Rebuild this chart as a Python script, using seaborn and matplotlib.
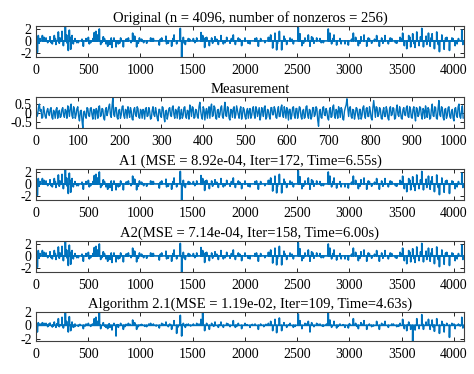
import numpy as np
import pandas as pd
import matplotlib
matplotlib.use("Agg")
import matplotlib.pyplot as plt
import seaborn as sns

n = 4096
m = 1024

# positions of the larger nonzeros
spike_idx = [
    13, 22, 38, 61, 77, 96, 112, 134, 156, 175, 191, 214, 223, 249, 262, 281,
    293, 309, 319, 332, 345, 357, 373, 405, 453, 479, 501, 523, 558, 574, 590, 606,
    619, 644, 670, 686, 708, 727, 746, 766, 788, 810, 836, 861, 884, 925, 944, 963,
    979, 1011, 1059, 1097, 1123, 1180, 1203, 1244, 1266, 1298, 1321, 1346, 1381, 1394,
    1410, 1429, 1458, 1506, 1538, 1579, 1595, 1614, 1633, 1659, 1681, 1713, 1745, 1770,
    1793, 1825, 1857, 1888, 1908, 1936, 1968, 2000, 2048, 2096, 2128, 2150, 2224, 2246,
    2265, 2287, 2303, 2329, 2351, 2373, 2399, 2431, 2463, 2510, 2526, 2545, 2574, 2606,
    2622, 2638, 2660, 2686, 2718, 2750, 2797, 2813, 2829, 2852, 2877, 2909, 2957, 2989,
    3037, 3059, 3085, 3110, 3139, 3165, 3190, 3212, 3260, 3286, 3308, 3340, 3372, 3404,
    3452, 3484, 3509, 3525, 3548, 3567, 3586, 3605, 3628, 3644, 3666, 3692, 3708, 3733,
    3756, 3772, 3791, 3813, 3835, 3861, 3884, 3906, 3931, 3957, 3980, 4011, 4043, 4075,
    4085,
]

orig_amp = [
    -1.9, 0.9, 0.4, 0.9, 0.6, 0.5, -0.3, 0.7, -0.5, 0.9, -0.6, 1.5, -0.4, 1.6, -0.8, 2.5,
    1.0, -1.6, 1.8, -1.4, 0.9, -0.5, 0.4, -0.3, -0.9, 0.4, 0.6, -0.3, 1.4, 1.6, 1.0, 2.0,
    -0.6, 0.7, -0.5, -0.9, -0.6, -1.1, 0.5, -1.0, -0.5, 0.5, -1.0, 0.3, 0.5, 1.3, 0.8, -1.0,
    -0.4, 0.3, -0.4, 0.5, 0.4, -0.7, 0.5, 0.8, -0.4, -0.9, 1.0, -0.5, 2.1, -2.7,
    0.6, -0.6, 0.4, 0.4, 0.5, 1.4, 0.9, -1.1, 0.6, -0.8, 0.5, 0.7, -0.6, 0.9,
    -0.5, 0.6, -0.4, 1.0, -0.6, 0.5, -0.8, 0.5, -0.5, 0.4, -0.9, 0.4, 0.6, 1.0,
    -1.2, 1.3, -1.5, 1.6, -1.5, 0.8, -0.6, 0.5, -0.5, 2.2, 1.2, -0.8, 0.5, 1.0,
    -0.9, 0.7, -0.4, 0.5, 0.4, -0.3, 2.0, 1.3, -0.5, 1.0, -0.7, 0.4, -0.5, -0.7,
    1.3, 0.6, -0.8, 0.7, 1.0, -0.9, 0.4, -0.4, 0.9, -0.9, 0.5, 0.9, -0.5, 0.4,
    -0.4, 0.6, 1.3, -0.8, -1.3, 0.9, -1.0, 1.2, -1.1, 1.5, -0.8, 2.1, -1.0, 0.8,
    1.3, -0.9, 1.2, -1.3, 1.5, -1.8, 1.0, -1.4, 0.6, -1.6, 0.5, -0.8, 0.4, 1.8,
    -0.6,
]

# smaller nonzeros of the original
small_idx = [
    5, 30, 70, 88, 145, 185, 230, 300, 326, 390, 440, 510, 545, 630, 655, 720,
    800, 870, 910, 990, 1030, 1110, 1190, 1250, 1310, 1420, 1470, 1520, 1620, 1690,
    1730, 1810, 1870, 1950, 2030, 2110, 2190, 2240, 2310, 2380, 2450, 2560, 2650,
    2730, 2840, 2920, 3020, 3100, 3180, 3240, 3320, 3390, 3440, 3500, 3580, 3620,
    3680, 3740, 3780, 3850, 3920, 3990, 4030,
]
small_amp = [
    0.3, -0.4, 0.5, 0.3, -0.3, 0.4, 0.5, -0.4, 0.6, -0.3, 0.3, -0.5, 0.4, -0.3, 0.4, 0.5,
    -0.4, 0.3, -0.3, 0.5, -0.3, 0.4, 0.3, -0.5, 0.4, -0.4, 0.3, -0.3, 0.5, -0.4,
    0.3, -0.3, 0.4, 0.3, -0.4, 0.5, -0.3, 0.6, -0.5, 0.4, 0.3, -0.4, 0.5,
    -0.3, 0.4, -0.5, 0.3, -0.4, 0.5, 0.3, -0.4, 0.5, -0.3, 0.4, 0.6, -0.5,
    0.7, -0.6, 0.5, -0.6, 0.5, 0.4, -0.5,
]

# A1 and A2 recover the original almost exactly (MSE ~ 1e-3)
a1_amp = orig_amp
a2_amp = orig_amp

alg21_amp = [
    -1.0, 0.4, 0.2, 0.4, 0.3, 0.3, -0.2, 0.35, -0.25, 0.5, -0.3, 1.0, -0.2, 1.2, -0.4, 1.9,
    0.6, -1.0, 1.3, -0.8, 0.5, -0.3, 0.2, -0.15, -0.5, 0.2, 0.3, -0.15, 1.0, 1.2, 0.6, 1.9,
    -0.5, 0.4, -0.3, -0.5, -0.3, -0.7, 0.3, -1.6, -0.3, 0.3, -0.6, 0.15, 0.3, 0.8, 0.4, -0.6,
    -0.2, 0.15, -0.2, 0.3, 0.2, -0.4, 0.3, 0.5, -0.2, -0.6, 0.7, -1.2, 1.5, -1.6,
    0.3, -0.3, 0.2, 0.2, 0.3, 0.9, 2.0, -0.8, 0.3, -0.6, 0.3, 0.5, -0.3, 0.5,
    -0.3, 0.3, -0.2, 0.7, -0.3, 0.3, -0.5, 0.3, -0.3, 0.2, -0.6, 0.2, 0.3, 0.6,
    -0.8, 0.9, -1.1, 1.1, -0.8, 0.4, -0.3, 0.3, -0.3, 1.7, 0.7, -0.5, 0.3, 0.6,
    -1.0, 0.4, -0.2, 0.3, 0.2, -0.15, 1.9, 0.8, -0.3, 0.6, -0.4, 0.2, -0.3, -0.4,
    1.0, 0.3, -0.5, 0.4, 0.7, -0.6, 0.2, -0.2, 0.6, -0.6, 0.3, 0.6, -0.3, 0.2,
    -0.2, 0.3, 0.9, -0.5, -0.8, 0.5, -0.6, -2.35, -0.7, 1.0, -0.5, 1.6, -0.6, 0.5,
    0.9, -0.6, 0.8, -0.9, 1.0, -1.2, 0.6, -1.0, 0.3, -1.8, 0.3, -0.5, 0.2, 1.2,
    -0.4,
]

# small leftover entries in the Algorithm 2.1 estimate
alg21_extra_idx = [
    50, 120, 160, 200, 240, 370, 420, 470, 540, 660, 700, 780, 850, 900, 1000, 1040,
    1080, 1150, 1220, 1280, 1360, 1440, 1480, 1560, 1700, 1760, 1840, 1920, 2020, 2070,
    2180, 2200, 2420, 2480, 2590, 2700, 2740, 2780, 2890, 2940, 3000, 3070, 3130, 3230,
    3330, 3420, 3470, 3560, 3700, 3800, 3900, 4000, 4060,
]
alg21_extra_amp = [
    0.15, 0.2, -0.15, 0.25, 0.1, -0.2, 0.15, -0.1, 0.2, -0.15, 0.25, 0.1, -0.2, 0.15, 0.1, -0.15,
    0.2, -0.1, 0.15, 0.2, -0.25, 0.15, -0.1, 0.2, -0.15, 0.1, 0.2, -0.15, 0.1, 0.15,
    -0.2, 0.15, 0.1, -0.15, 0.2, 0.15, -0.1, 0.2, -0.15, 0.1, 0.25, -0.15, 0.2, -0.1,
    0.15, 0.2, -0.15, 0.1, 0.2, -0.25, 0.15, 0.2, -0.1,
]

# measurement y (1024 samples), read at samples 0, 4, 8, ... and 2, 6, 10, ...
meas_even = [
    0.35, -0.1, 0.5, 0.2, -0.25, 0.1, -0.3, 0.25, -0.15, 0.3, -0.35, 0.05, 0.2, -0.3, 0.15, -0.2,
    0.3, -0.25, 0.1, 0.4, -0.2, 0.5, -0.3, 0.2, -0.1, 0.35, -0.45, 0.15, -0.85, 0.1, -0.3, 0.25,
    -0.2, 0.3, -0.35, 0.15, 0.25, -0.3, 0.4, -0.15, 0.2, -0.4, 0.3, 0.05, 0.5, -0.25, 0.9, -0.2,
    0.3, -0.35, 0.2, -0.1, 0.4, -0.3, 0.15, 0.35, -0.25, 0.1, -0.4, 0.3, -0.2, 0.25, -0.3, 0.1,
    0.2, -0.35, 0.3, -0.15, 0.1, -0.3, 0.35, -0.2, 0.05, -0.45, 0.2, -0.25, 0.3, -0.5, 0.15, -0.1,
    0.3, -0.2, 0.4, -0.3, 0.1, 0.25, -0.35, 0.2, -0.15, 0.35, -0.3, 0.1, 0.45, -0.2, 0.3, -0.25,
    0.15, -0.3, 0.6, -0.2, 0.35, -0.4, 0.25, 0.1, -0.3, 0.5, -0.15, 0.3, -0.35, 0.2, -0.1, 0.4,
    -0.3, 0.6, -0.2, 0.3, -0.4, 0.15, 0.25, -0.3, 0.4, -0.1, 0.2, -0.35, 0.3, -0.2, 0.1, -0.3,
    0.25, -0.15, 0.35, -0.3, 0.2, 0.05, -0.4, 0.3, -0.2, 0.4, -0.25, 0.15, -0.35, 0.3, -0.1, 0.2,
    -0.3, 0.35, -0.2, 0.45, -0.25, 0.1, 0.3, -0.4, 0.2, -0.15, 0.35, -0.3, 0.25, -0.05, 0.3, -0.35,
    0.2, -0.25, 0.4, -0.3, 0.15, -0.2, 0.3, -0.1, 0.25, -0.75, 0.2, -0.3, 0.35, -0.15, 0.1, -0.4,
    0.3, -0.2, 0.45, -0.3, 0.1, 0.35, -0.25, 0.2, -0.4, 0.3, 0.8, -0.2, 0.35, -0.3, 0.15, -0.1,
    0.25, -0.35, 0.2, -0.15, 0.4, -0.3, 0.3, -0.2, 0.1, -0.4, 0.7, -0.25, 0.3, -0.1, 0.2, -0.35,
    0.3, -0.2, 0.15, -0.4, 0.35, -0.1, 0.25, -0.3, 0.45, -0.2, 0.1, -0.35, 0.3, -0.15, 0.4, -0.25,
    0.2, -0.3, 0.35, -0.45, 0.25, -0.1, 0.3, -0.35, 0.15, 0.4, -0.25, 0.2, -0.3, 0.5, -0.2, 0.3,
    -0.35, 0.7, -0.2, 0.3, -0.4, 0.25, -0.15, 0.35, -0.3, 0.2, -0.45, 0.3, -0.25, 0.5, -0.3, 0.4,
]
meas_odd = [
    -0.2, 0.3, 0.1, -0.3, 0.35, -0.2, 0.1, 0.0, 0.2, -0.25, 0.15, -0.3, 0.3, 0.05, -0.25, 0.2,
    -0.1, 0.2, -0.3, 0.15, 0.3, -0.15, 0.35, -0.3, 0.25, -0.2, 0.1, -0.4, 0.05, -0.2, 0.3, -0.15,
    0.25, -0.1, 0.2, -0.35, 0.1, 0.35, -0.2, 0.25, -0.3, 0.15, -0.15, 0.35, -0.1, 0.4, -0.1, 0.3,
    -0.25, 0.15, -0.3, 0.35, -0.15, 0.2, -0.3, 0.1, 0.3, -0.35, 0.2, -0.1, 0.35, -0.25, 0.2, -0.3,
    0.1, 0.25, -0.2, 0.3, -0.35, 0.15, -0.1, 0.3, -0.3, 0.2, -0.15, 0.35, -0.2, 0.1, -0.35, 0.25,
    -0.15, 0.3, -0.1, 0.2, -0.3, 0.35, -0.05, -0.3, 0.3, -0.2, 0.15, -0.35, 0.2, 0.35, -0.3, 0.2,
    -0.2, 0.35, 0.1, -0.35, 0.2, 0.05, -0.3, 0.35, 0.3, -0.2, 0.4, -0.3, 0.15, -0.25, 0.3, -0.2,
    0.2, -0.15, 0.35, -0.3, 0.2, -0.25, 0.35, -0.1, 0.15, -0.3, 0.35, -0.1, 0.2, -0.35, 0.25, 0.1,
    -0.3, 0.2, -0.1, 0.35, -0.2, 0.3, -0.15, 0.1, 0.3, -0.35, 0.2, -0.2, 0.3, -0.1, 0.35, -0.25,
    0.15, -0.2, 0.3, -0.1, 0.35, -0.3, 0.1, 0.2, -0.35, 0.3, -0.15, 0.25, -0.3, 0.35, -0.2, 0.1,
    -0.3, 0.35, -0.15, 0.2, -0.35, 0.3, -0.2, 0.35, -0.4, 0.1, -0.25, 0.3, -0.1, 0.25, -0.3, 0.15,
    -0.25, 0.35, -0.15, 0.2, -0.3, 0.15, 0.3, -0.35, 0.1, 0.45, 0.25, 0.3, -0.2, 0.2, -0.35, 0.3,
    -0.15, 0.2, -0.35, 0.3, -0.1, 0.25, -0.2, 0.35, -0.3, 0.3, 0.2, 0.35, -0.2, 0.3, -0.3, 0.1,
    -0.2, 0.35, -0.3, 0.25, -0.15, 0.3, -0.35, 0.2, -0.1, 0.35, -0.3, 0.2, -0.1, 0.3, -0.2, 0.35,
    -0.25, 0.2, -0.1, 0.3, -0.2, 0.35, -0.15, 0.25, -0.3, 0.1, 0.3, -0.35, 0.2, -0.15, 0.35, -0.3,
    0.25, -0.1, 0.35, -0.25, 0.2, -0.3, 0.3, -0.2, 0.1, -0.3, 0.25, -0.15, 0.35, -0.2, 0.1, -0.3,
]

titles = [
    "Original (n = 4096, number of nonzeros = 256)",
    "Measurement",
    "A1 (MSE = 8.92e-04, Iter=172, Time=6.55s)",
    "A2(MSE = 7.14e-04, Iter=158, Time=6.00s)",
    "Algorithm 2.1(MSE = 1.19e-02, Iter=109, Time=4.63s)",
]


def sparse(idx, amp, extra_idx=None, extra_amp=None):
    s = np.zeros(n)
    s[idx] = amp
    if extra_idx is not None:
        s[extra_idx] = extra_amp
    return s


orig = sparse(spike_idx, orig_amp, small_idx, small_amp)
a1 = sparse(spike_idx, a1_amp, small_idx, small_amp)
a2 = sparse(spike_idx, a2_amp, small_idx, small_amp)
alg = sparse(spike_idx, alg21_amp, alg21_extra_idx, alg21_extra_amp)

t = np.arange(n)
meas = np.empty(2 * len(meas_even))
meas[0::2] = meas_even
meas[1::2] = meas_odd
meas_x = np.arange(len(meas)) * 2

sns.set_theme(style="ticks")
plt.rcParams['font.family'] = ['Liberation Serif', 'DejaVu Serif']
plt.rcParams['axes.unicode_minus'] = False

fig = plt.figure(figsize=(4.74, 3.74), dpi=100)

# (top, bottom) of each panel in pixels from the top
boxes = [(26, 57), (97, 128), (169, 200), (241, 272), (312, 341)]
series = [(t, orig), (meas_x, meas), (t, a1), (t, a2), (t, alg)]
xmax = [n, m, n, n, n]
xstep = [500, 100, 500, 500, 500]
yticks = [[-2, 0, 2], [-0.5, 0, 0.5], [-2, 0, 2], [-2, 0, 2], [-2, 0, 2]]
widths = [1.2, 1.0, 1.2, 1.2, 1.2]
blue = "#0072BD"

for i, ((top, bot), (x, y)) in enumerate(zip(boxes, series)):
    ax = fig.add_axes([36 / 474, 1 - bot / 374, 428 / 474, (bot - top) / 374])
    df = pd.DataFrame({"x": x, "y": y})
    sns.lineplot(data=df, x="x", y="y", ax=ax, color=blue, linewidth=widths[i],
                 estimator=None, sort=False)
    ax.set_xlim(0, xmax[i])
    ax.set_ylim(y.min(), y.max())
    ax.set_xticks(np.arange(0, xmax[i] + 1, xstep[i]))
    ax.set_yticks(yticks[i])
    ax.set_yticklabels([f"{v:g}" for v in yticks[i]])
    ax.set_xlabel("")
    ax.set_ylabel("")
    ax.set_title(titles[i], fontsize=10.5, pad=3, color="black")
    ax.tick_params(axis="both", direction="in", top=True, right=True,
                   length=3, width=0.6, labelsize=10, colors="black")
    ax.tick_params(axis="x", pad=5)
    ax.tick_params(axis="y", pad=3)
    for sp in ax.spines.values():
        sp.set_linewidth(0.8)
        sp.set_color("#404040")

fig.savefig("out.png", dpi=100)
